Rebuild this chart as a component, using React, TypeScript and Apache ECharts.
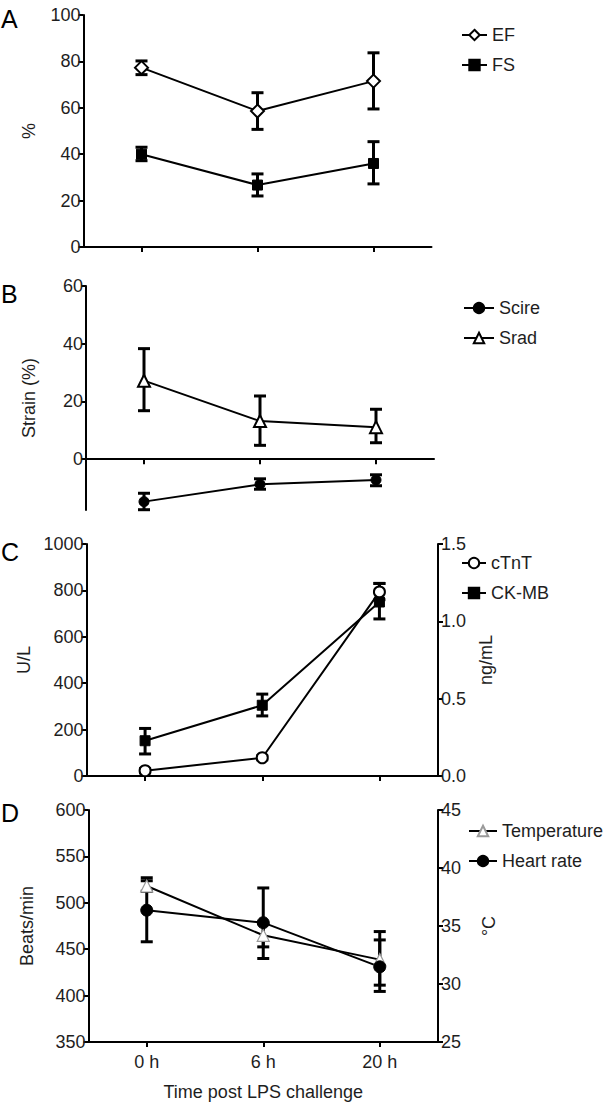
import React, { useEffect, useRef } from "react";
import * as echarts from "echarts";

const categories = ["0 h", "6 h", "20 h"];

// Panel A (%)
const efMean = [77.3, 58.6, 71.5];
const efLow = [74.3, 50.7, 59.5];
const efHigh = [80.2, 66.5, 83.7];
const fsMean = [40.0, 26.7, 36.0];
const fsLow = [37.2, 22.0, 27.2];
const fsHigh = [43.0, 31.5, 45.4];

// Panel B (Strain %)
const scireMean = [-14.7, -8.7, -7.2];
const scireLow = [-17.5, -10.4, -9.2];
const scireHigh = [-11.8, -6.8, -5.4];
const sradMean = [27.2, 13.2, 11.1];
const sradLow = [16.8, 4.8, 5.7];
const sradHigh = [38.3, 21.9, 17.3];

// Panel C
const ctntMean = [0.034, 0.118, 1.19]; // ng/mL (right)
const ctntLow = [0.02, 0.105, 1.14];
const ctntHigh = [0.048, 0.13, 1.245];
const ckmbMean = [152, 305, 750]; // U/L (left)
const ckmbLow = [95, 259, 677];
const ckmbHigh = [205, 353, 830];

// Panel D
const tempMean = [38.45, 34.2, 32.1]; // °C (right)
const tempLow = [38.0, 33.2, 29.9];
const tempHigh = [38.9, 35.2, 33.8];
const hrMean = [492, 478.6, 431]; // Beats/min (left)
const hrLow = [458, 440, 404.5];
const hrHigh = [527, 516, 469];

const FONT = "'Liberation Sans', Arial, Helvetica, sans-serif";
const TXT = "#1e1e1e";

function errData(low: number[], high: number[]) {
  return low.map((l, i) => [i, l, high[i]]);
}

function errRender(params: any, api: any) {
  const x = api.value(0);
  const lo = api.value(1);
  const hi = api.value(2);
  const p1 = api.coord([x, hi]);
  const p2 = api.coord([x, lo]);
  const w = 6;
  const st = { stroke: "#000", lineWidth: 3 };
  return {
    type: "group",
    children: [
      { type: "line", shape: { x1: p1[0], y1: p1[1], x2: p2[0], y2: p2[1] }, style: st },
      { type: "line", shape: { x1: p1[0] - w, y1: p1[1], x2: p1[0] + w, y2: p1[1] }, style: st },
      { type: "line", shape: { x1: p2[0] - w, y1: p2[1], x2: p2[0] + w, y2: p2[1] }, style: st },
    ],
  };
}

function errSeries(name: string, grid: number, yIdx: number, low: number[], high: number[]) {
  return {
    name,
    type: "custom",
    xAxisIndex: grid,
    yAxisIndex: yIdx,
    renderItem: errRender,
    data: errData(low, high),
    encode: { x: 0, y: [1, 2] },
    z: 1,
    silent: true,
  };
}

function lineSeries(name: string, grid: number, yIdx: number, data: number[], symbol: string, size: number, itemStyle: any) {
  return {
    name,
    type: "line",
    xAxisIndex: grid,
    yAxisIndex: yIdx,
    data,
    symbol,
    symbolSize: size,
    showAllSymbol: true,
    lineStyle: { color: "#000", width: 2 },
    itemStyle,
    z: 3,
  };
}

function xAx(grid: number, showLabel: boolean, extra: any = {}) {
  return {
    type: "category",
    gridIndex: grid,
    data: categories,
    axisLine: { show: true, lineStyle: { color: "#000", width: 2 } },
    axisTick: { show: true, alignWithLabel: true, length: 5, lineStyle: { color: "#000", width: 2 } },
    axisLabel: { show: showLabel, fontSize: 18, color: TXT, fontFamily: FONT, margin: 11 },
    splitLine: { show: false },
    ...extra,
  };
}

const plain = (v: number) => String(v);

function yAx(grid: number, min: number, max: number, interval: number | undefined, name: string, position: string, nameGap: number, extra: any = {}) {
  const o: any = {
    type: "value",
    gridIndex: grid,
    min,
    max,
    position,
    name,
    nameLocation: "middle",
    nameGap,
    nameTextStyle: { fontSize: 18, color: TXT, fontFamily: FONT },
    axisLine: { show: true, onZero: false, lineStyle: { color: "#000", width: 2 } },
    axisTick: { show: true, length: 5, lineStyle: { color: "#000", width: 2 } },
    axisLabel: { fontSize: 18, color: TXT, fontFamily: FONT, margin: 3, formatter: plain },
    splitLine: { show: false },
    ...extra,
  };
  if (interval !== undefined) o.interval = interval;
  return o;
}

function legend(names: string[], left: number, top: number, itemWidth: number) {
  return {
    data: names,
    orient: "vertical",
    left,
    top,
    itemWidth,
    itemHeight: 13,
    itemGap: 12,
    textStyle: { fontSize: 18, color: TXT, fontFamily: FONT },
    selectedMode: false,
  };
}

export default function App() {
  const ref = useRef<HTMLDivElement>(null);

  useEffect(() => {
    document.body.style.margin = "0";
    const chart = echarts.init(ref.current!, null, { renderer: "svg" });

    const open = (c: string) => ({ color: "#fff", borderColor: c, borderWidth: 2 });
    const filled = { color: "#000", borderColor: "#000", borderWidth: 1 };

    const option: any = {
      animation: false,
      backgroundColor: "#fff",
      textStyle: { fontFamily: FONT },
      grid: [
        { left: 83.5, width: 348, top: 15, height: 232 },
        { left: 86, width: 348, top: 286, height: 224 },
        { left: 86.5, width: 351.5, top: 544, height: 232 },
        { left: 88.5, width: 349.5, top: 810, height: 232 },
      ],
      xAxis: [
        xAx(0, false),
        xAx(1, false, { axisLine: { show: true, onZero: true, lineStyle: { color: "#000", width: 2 } } }),
        xAx(2, false),
        xAx(3, true, {
          name: "Time post LPS challenge",
          nameLocation: "middle",
          nameGap: 41,
          nameTextStyle: { fontSize: 18, color: TXT, fontFamily: FONT },
        }),
      ],
      yAxis: [
        yAx(0, 0, 100, 20, "%", "left", 46),
        yAx(1, -17.6, 60, undefined, "Strain (%)", "left", 48, {
          axisTick: { show: true, length: 5, customValues: [0, 20, 40, 60], lineStyle: { color: "#000", width: 2 } },
          axisLabel: { fontSize: 18, color: TXT, fontFamily: FONT, margin: 3, customValues: [0, 20, 40, 60], formatter: plain },
        }),
        yAx(2, 0, 1000, 200, "U/L", "left", 44),
        yAx(2, 0, 1.5, 0.5, "ng/mL", "right", 32, {
          axisLabel: { fontSize: 18, color: TXT, fontFamily: FONT, margin: 3, formatter: (v: number) => v.toFixed(1) },
        }),
        yAx(3, 350, 600, 50, "Beats/min", "left", 53),
        yAx(3, 25, 45, 5, "°C", "right", 42),
      ],
      legend: [
        legend(["EF", "FS"], 456, 21, 25),
        legend(["Scire", "Srad"], 458, 294, 30),
        legend(["cTnT", "CK-MB"], 456, 549, 24),
        legend(["Temperature", "Heart rate"], 463, 817, 28),
      ],
      graphic: [
        { type: "text", left: 1, top: 6, style: { text: "A", fontSize: 25, fill: "#000", fontFamily: FONT } },
        { type: "text", left: 1, top: 281, style: { text: "B", fontSize: 25, fill: "#000", fontFamily: FONT } },
        { type: "text", left: 1, top: 539, style: { text: "C", fontSize: 25, fill: "#000", fontFamily: FONT } },
        { type: "text", left: 1, top: 800, style: { text: "D", fontSize: 25, fill: "#000", fontFamily: FONT } },
      ],
      series: [
        errSeries("EF err", 0, 0, efLow, efHigh),
        errSeries("FS err", 0, 0, fsLow, fsHigh),
        lineSeries("EF", 0, 0, efMean, "diamond", 13, open("#000")),
        lineSeries("FS", 0, 0, fsMean, "rect", 10, filled),

        errSeries("Scire err", 1, 1, scireLow, scireHigh),
        errSeries("Srad err", 1, 1, sradLow, sradHigh),
        lineSeries("Scire", 1, 1, scireMean, "circle", 10, filled),
        lineSeries("Srad", 1, 1, sradMean, "triangle", 12, open("#000")),

        errSeries("cTnT err", 2, 3, ctntLow, ctntHigh),
        errSeries("CK-MB err", 2, 2, ckmbLow, ckmbHigh),
        lineSeries("cTnT", 2, 3, ctntMean, "circle", 11, open("#000")),
        lineSeries("CK-MB", 2, 2, ckmbMean, "rect", 10, filled),

        errSeries("Temp err", 3, 5, tempLow, tempHigh),
        errSeries("HR err", 3, 4, hrLow, hrHigh),
        lineSeries("Temperature", 3, 5, tempMean, "triangle", 12, { color: "#fff", borderColor: "#9a9a9a", borderWidth: 1.2 }),
        lineSeries("Heart rate", 3, 4, hrMean, "circle", 12, filled),
      ],
    };

    chart.setOption(option);
    return () => chart.dispose();
  }, []);

  return <div ref={ref} style={{ width: 608, height: 1104, position: "absolute", left: 0, top: 0 }} />;
}
